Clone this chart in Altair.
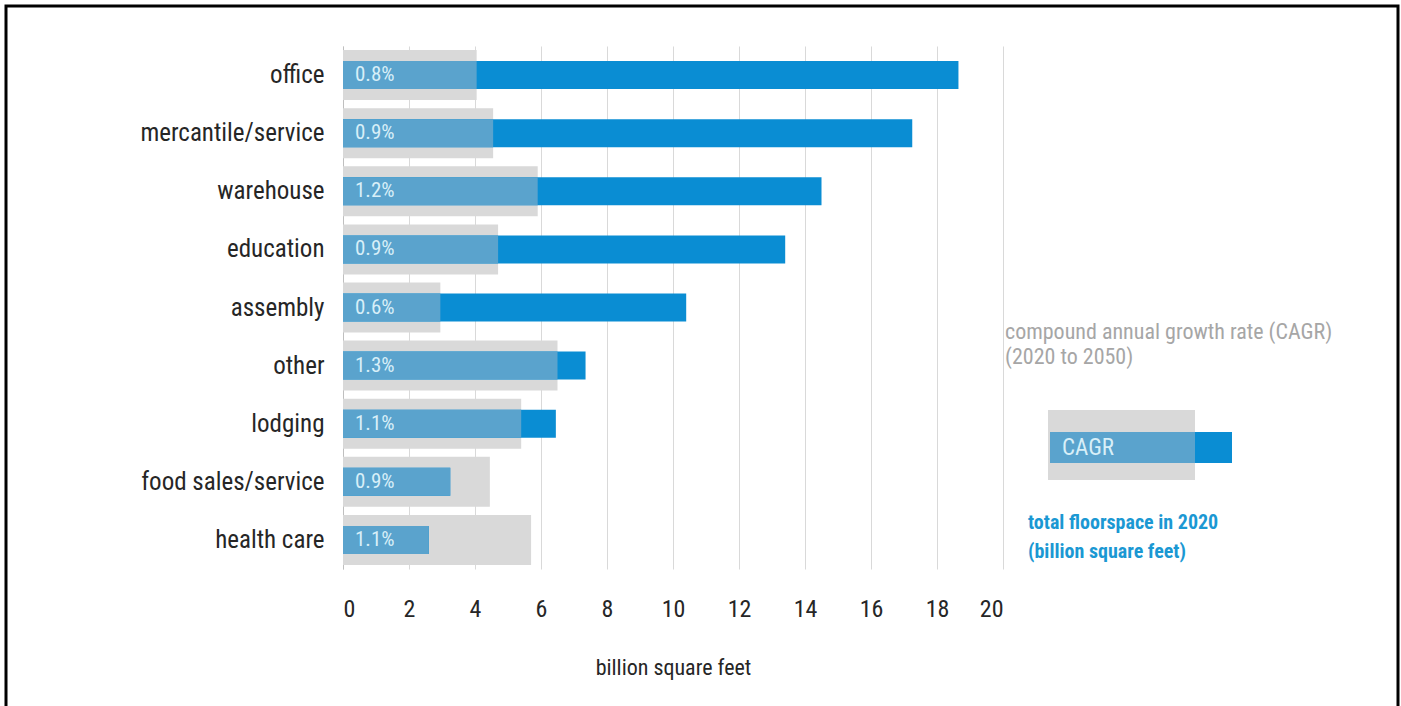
import altair as alt
import pandas as pd

categories = ["office", "mercantile/service", "warehouse", "education", "assembly",
              "other", "lodging", "food sales/service", "health care"]
floorspace = [18.65, 17.25, 14.5, 13.4, 10.4, 7.35, 6.45, 3.25, 2.6]
cagr_bar = [4.05, 4.55, 5.9, 4.7, 2.95, 6.5, 5.4, 4.45, 5.7]
cagr_label = ["0.8%", "0.9%", "1.2%", "0.9%", "0.6%", "1.3%", "1.1%", "0.9%", "1.1%"]
x_ticks = [0, 2, 4, 6, 8, 10, 12, 14, 16, 18, 20]

df = pd.DataFrame({"cat": categories, "floor": floorspace, "cagr": cagr_bar, "label": cagr_label})

FONT = "Liberation Sans Narrow, Arial Narrow, Roboto Condensed, Liberation Sans, sans-serif"
GRAY = "#D9D9D9"
BLUE = "#0A8DD3"
OVER = "#5AA3CD"
TXT = "#D8EFF8"

W, H = 660, 523

y_axis = alt.Axis(title=None, ticks=False, domain=True, domainColor="#BFBFBF",
                  labelFontSize=25, labelColor="#262626", labelPadding=19,
                  labelFont=FONT, grid=False, labelLimit=400)
y_scale = alt.Scale(domain=categories, paddingInner=0, paddingOuter=0)
x_scale = alt.Scale(domain=[0, 20], nice=False)
x_axis = alt.Axis(values=x_ticks, grid=True, gridColor=GRAY, domain=False, ticks=False,
                  labelFontSize=24, labelColor="#262626", labelFont=FONT, labelPadding=28,
                  title="billion  square feet", titleFontSize=22, titleFontWeight="normal",
                  titleColor="#262626", titleFont=FONT, titlePadding=36)


def Y():
    return alt.Y("cat:N", sort=categories, scale=y_scale, axis=y_axis)


def X(field):
    return alt.X(field, scale=x_scale, axis=x_axis)


base = alt.Chart(df)

gray = base.mark_bar(color=GRAY, size=50).encode(x=X("cagr:Q"), y=Y())
blue = base.mark_bar(color=BLUE, size=28).encode(x=X("floor:Q"), y=Y())
over = base.transform_calculate(ov="min(datum.cagr, datum.floor)").mark_bar(color=OVER, size=28).encode(
    x=X("ov:Q"), y=Y())
labels = base.mark_text(align="left", baseline="middle", color=TXT, fontSize=21, font=FONT).encode(
    x=alt.value(12), y=Y(), text="label:N")

one = alt.Data(values=[{"a": 1}])
OX, OY = 343, 46


def rect(x1, x2, y1, y2, **kw):
    return alt.Chart(one).mark_rect(**kw).encode(
        x=alt.value(x1 - OX), x2=alt.value(x2 - OX), y=alt.value(y1 - OY), y2=alt.value(y2 - OY))


def txt(s, x, y, **kw):
    return alt.Chart(alt.Data(values=[{"t": s}])).mark_text(align="left", baseline="middle", font=FONT, **kw).encode(
        x=alt.value(x - OX), y=alt.value(y - OY), text="t:N")


leg = [
    txt("compound  annual growth rate (CAGR)", 1005, 332, fontSize=22, color="#A6A6A6"),
    txt("(2020 to 2050)", 1005, 357, fontSize=22, color="#A6A6A6"),
    rect(1048, 1195, 410, 480, color=GRAY),
    rect(1050, 1232, 432, 463, color=BLUE),
    rect(1050, 1195, 432, 463, color=OVER),
    txt("CAGR", 1062, 448, fontSize=23, color=TXT),
    txt("total floorspace  in 2020", 1028, 523, fontSize=20, fontWeight="bold", color="#1B98D3"),
    txt("(billion square feet)", 1028, 552, fontSize=20, fontWeight="bold", color="#1B98D3"),
    rect(6, 1398, 6, 720, fill=None, stroke="black", strokeWidth=3, filled=False),
]

chart = alt.layer(gray, blue, over, labels, *leg).properties(
    width=W, height=H,
    background="white",
    autosize=alt.AutoSizeParams(type="none"),
    padding={"left": OX, "top": OY, "right": 1401 - OX - W, "bottom": 706 - OY - H},
).configure_view(strokeWidth=0, stroke=None)

chart.save("out.html", embed_options={"renderer": "svg", "actions": False})
